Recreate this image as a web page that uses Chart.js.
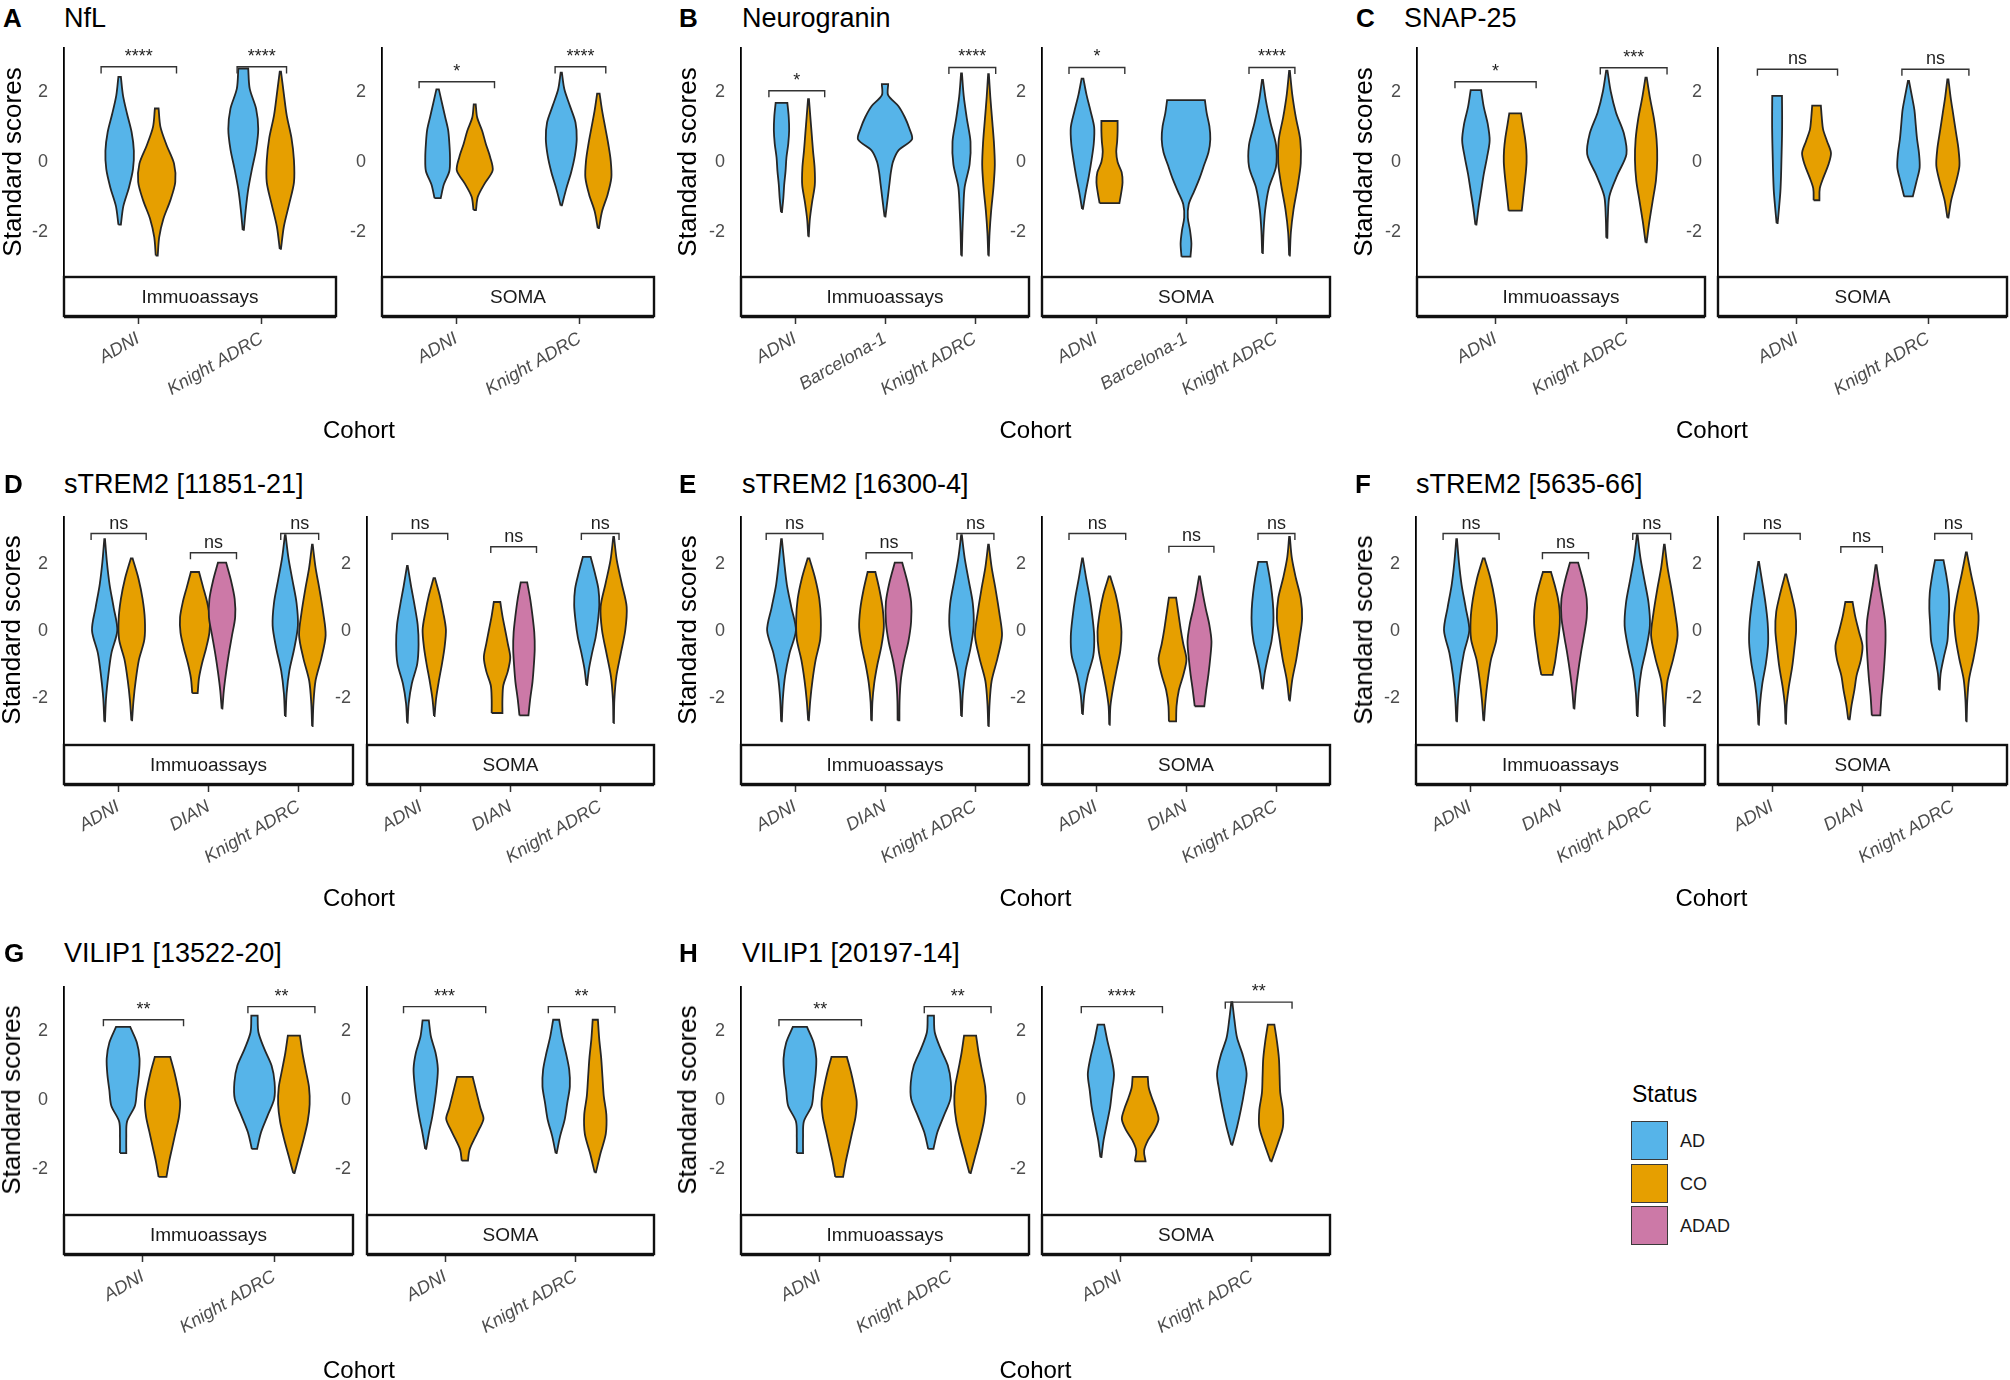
<!DOCTYPE html>
<html>
<head>
<meta charset="utf-8">
<script src="https://cdn.jsdelivr.net/npm/chart.js@4.4.1/dist/chart.umd.min.js"></script>
<style>
  body { margin: 0; width: 2010px; height: 1380px; background: #fff; position: relative; overflow: hidden; }
  canvas { position: absolute; }
  .lbl { position: absolute; line-height: 1; white-space: nowrap; color: #000;
         font-family: "Liberation Sans", Arial, sans-serif; }
  .key { position: absolute; box-sizing: border-box; border: 1.5px solid #3a3a3a; }
</style>
</head>
<body>
<script>
// ---- data ----
const cohorts2 = ['ADNI', 'Knight ADRC'];
const cohortsBarcelona = ['ADNI', 'Barcelona-1', 'Knight ADRC'];
const cohortsDian = ['ADNI', 'DIAN', 'Knight ADRC'];
const yTicks = [-2, 0, 2];
const statusLevels = ['AD', 'CO', 'ADAD'];

// violin: [cohort index, status, min, max, half-widths from min to max]
// bracket: [x from, x to, y, label]
const nflImmViolins = [
  [1, 'AD', -1.8, 2.45, [0.01, 0.03, 0.075, 0.108, 0.115, 0.097, 0.06, 0.027, 0.01]],
  [1, 'CO', -2.69, 1.54, [0.008, 0.02, 0.054, 0.11, 0.15, 0.14, 0.08, 0.03, 0.015]],
  [2, 'AD', -1.95, 2.69, [0.005, 0.02, 0.04, 0.07, 0.104, 0.121, 0.104, 0.052, 0.04]],
  [2, 'CO', -2.5, 2.6, [0.005, 0.028, 0.07, 0.11, 0.11, 0.09, 0.052, 0.028, 0.005]]
];
const nflImmBrackets = [[0.70, 1.31, 2.74, '****'], [1.80, 2.20, 2.74, '****']];
const nflSomaViolins = [
  [1, 'AD', -1.04, 2.09, [0.025, 0.05, 0.095, 0.1, 0.095, 0.085, 0.06, 0.035, 0.01]],
  [1, 'CO', -1.38, 1.66, [0.01, 0.025, 0.08, 0.145, 0.125, 0.09, 0.06, 0.02, 0.008]],
  [2, 'AD', -1.25, 2.57, [0.005, 0.04, 0.08, 0.11, 0.125, 0.115, 0.07, 0.025, 0.005]],
  [2, 'CO', -1.9, 1.97, [0.005, 0.03, 0.075, 0.105, 0.1, 0.08, 0.055, 0.03, 0.01]]
];
const nflSomaBrackets = [[0.70, 1.31, 2.31, '*'], [1.80, 2.21, 2.74, '****']];

const ngImmViolins = [
  [1, 'AD', -1.44, 1.70, [0.005, 0.02, 0.03, 0.045, 0.055, 0.075, 0.085, 0.08, 0.065]],
  [1, 'CO', -2.14, 1.81, [0.003, 0.015, 0.04, 0.07, 0.068, 0.05, 0.035, 0.02, 0.005]],
  [2, 'AD', -1.57, 2.24, [0.005, 0.02, 0.035, 0.05, 0.065, 0.09, 0.15, 0.3, 0.27, 0.22, 0.15, 0.035, 0.035]],
  [3, 'AD', -2.69, 2.55, [0.004, 0.01, 0.02, 0.035, 0.09, 0.1, 0.06, 0.025, 0.005]],
  [3, 'CO', -2.69, 2.53, [0.003, 0.012, 0.03, 0.055, 0.07, 0.06, 0.04, 0.02, 0.004]]
];
const ngImmBrackets = [[0.71, 1.33, 2.05, '*'], [2.71, 3.23, 2.72, '****']];
const ngSomaViolins = [
  [1, 'AD', -1.35, 2.4, [0.005, 0.035, 0.07, 0.1, 0.125, 0.13, 0.09, 0.045, 0.01]],
  [1, 'CO', -1.18, 1.18, [0.11, 0.13, 0.145, 0.135, 0.09, 0.075, 0.085, 0.09, 0.09]],
  [2, 'AD', -2.72, 1.78, [0.05, 0.06, 0.045, 0.02, 0.03, 0.09, 0.15, 0.2, 0.25, 0.27, 0.26, 0.23, 0.21]],
  [3, 'AD', -2.62, 2.36, [0.004, 0.012, 0.03, 0.07, 0.15, 0.15, 0.09, 0.04, 0.005]],
  [3, 'CO', -2.69, 2.62, [0.004, 0.015, 0.045, 0.09, 0.125, 0.12, 0.07, 0.03, 0.004]]
];
const ngSomaBrackets = [[0.70, 1.32, 2.72, '*'], [2.70, 3.21, 2.72, '****']];

const snapImmViolins = [
  [1, 'AD', -1.8, 2.07, [0.004, 0.02, 0.04, 0.06, 0.085, 0.105, 0.09, 0.06, 0.04]],
  [1, 'CO', -1.4, 1.4, [0.05, 0.06, 0.07, 0.08, 0.087, 0.085, 0.075, 0.06, 0.045]],
  [2, 'AD', -2.18, 2.63, [0.004, 0.008, 0.02, 0.08, 0.15, 0.13, 0.07, 0.03, 0.005]],
  [2, 'CO', -2.31, 2.43, [0.004, 0.025, 0.05, 0.075, 0.085, 0.08, 0.06, 0.03, 0.005]]
];
const snapImmBrackets = [[0.69, 1.31, 2.31, '*'], [1.80, 2.31, 2.71, '***']];
const snapSomaViolins = [
  [1, 'AD', -1.76, 1.90, [0.004, 0.015, 0.025, 0.03, 0.033, 0.036, 0.038, 0.038, 0.037]],
  [1, 'CO', -1.1, 1.62, [0.022, 0.025, 0.055, 0.09, 0.11, 0.08, 0.05, 0.04, 0.033]],
  [2, 'AD', -0.99, 2.33, [0.033, 0.06, 0.085, 0.08, 0.065, 0.055, 0.045, 0.025, 0.004]],
  [2, 'CO', -1.6, 2.38, [0.004, 0.025, 0.06, 0.088, 0.08, 0.06, 0.04, 0.02, 0.004]]
];
const snapSomaBrackets = [[0.70, 1.31, 2.67, 'ns'], [1.80, 2.31, 2.67, 'ns']];

const trem11851ImmViolins = [
  [1, 'AD', -2.68, 2.72, [0.004, 0.015, 0.04, 0.075, 0.14, 0.1, 0.055, 0.025, 0.004]],
  [1, 'CO', -2.65, 2.15, [0.004, 0.02, 0.045, 0.08, 0.14, 0.145, 0.12, 0.075, 0.01]],
  [2, 'CO', -1.84, 1.75, [0.03, 0.045, 0.08, 0.125, 0.16, 0.165, 0.135, 0.09, 0.045]],
  [2, 'ADAD', -2.3, 2.03, [0.004, 0.02, 0.045, 0.075, 0.11, 0.145, 0.14, 0.1, 0.045]],
  [3, 'AD', -2.52, 2.84, [0.004, 0.015, 0.045, 0.1, 0.14, 0.125, 0.08, 0.035, 0.004]],
  [3, 'CO', -2.82, 2.56, [0.003, 0.012, 0.035, 0.1, 0.147, 0.12, 0.08, 0.035, 0.004]]
];
const trem11851ImmBrackets = [[0.70, 1.31, 2.89, 'ns'], [1.80, 2.31, 2.32, 'ns'], [2.80, 3.22, 2.89, 'ns']];
const trem11851SomaViolins = [
  [1, 'AD', -2.72, 1.93, [0.003, 0.015, 0.05, 0.11, 0.125, 0.115, 0.08, 0.04, 0.004]],
  [1, 'CO', -2.52, 1.57, [0.003, 0.02, 0.05, 0.085, 0.115, 0.13, 0.1, 0.06, 0.008]],
  [2, 'CO', -2.43, 0.86, [0.06, 0.06, 0.07, 0.12, 0.147, 0.12, 0.09, 0.06, 0.036]],
  [2, 'ADAD', -2.5, 1.44, [0.05, 0.07, 0.095, 0.11, 0.12, 0.115, 0.095, 0.07, 0.036]],
  [3, 'AD', -1.6, 2.2, [0.004, 0.025, 0.06, 0.1, 0.125, 0.14, 0.13, 0.09, 0.043]],
  [3, 'CO', -2.73, 2.79, [0.003, 0.008, 0.03, 0.08, 0.13, 0.145, 0.09, 0.035, 0.004]]
];
const trem11851SomaBrackets = [[0.68, 1.30, 2.89, 'ns'], [1.78, 2.29, 2.5, 'ns'], [2.79, 3.21, 2.89, 'ns']];

const trem16300ImmViolins = [
  [1, 'AD', -2.68, 2.72, [0.004, 0.015, 0.04, 0.09, 0.16, 0.11, 0.06, 0.03, 0.004]],
  [1, 'CO', -2.65, 2.15, [0.004, 0.02, 0.045, 0.08, 0.13, 0.137, 0.12, 0.075, 0.01]],
  [2, 'CO', -2.65, 1.75, [0.004, 0.01, 0.03, 0.065, 0.11, 0.137, 0.125, 0.09, 0.043]],
  [2, 'ADAD', -2.65, 2.03, [0.01, 0.012, 0.025, 0.06, 0.11, 0.14, 0.14, 0.1, 0.041]],
  [3, 'AD', -2.52, 2.84, [0.004, 0.015, 0.045, 0.1, 0.135, 0.125, 0.08, 0.035, 0.004]],
  [3, 'CO', -2.82, 2.56, [0.003, 0.012, 0.035, 0.1, 0.15, 0.12, 0.08, 0.035, 0.004]]
];
const trem16300ImmBrackets = [[0.68, 1.31, 2.89, 'ns'], [1.79, 2.30, 2.32, 'ns'], [2.80, 3.21, 2.89, 'ns']];
const trem16300SomaViolins = [
  [1, 'AD', -2.46, 2.15, [0.004, 0.02, 0.06, 0.12, 0.13, 0.11, 0.08, 0.04, 0.004]],
  [1, 'CO', -2.78, 1.62, [0.003, 0.01, 0.04, 0.08, 0.12, 0.133, 0.11, 0.07, 0.008]],
  [2, 'CO', -2.68, 0.99, [0.04, 0.045, 0.07, 0.12, 0.155, 0.12, 0.09, 0.065, 0.04]],
  [2, 'ADAD', -2.23, 1.62, [0.053, 0.075, 0.1, 0.12, 0.133, 0.11, 0.07, 0.035, 0.005]],
  [3, 'AD', -1.71, 2.05, [0.004, 0.025, 0.06, 0.1, 0.12, 0.12, 0.105, 0.08, 0.048]],
  [3, 'CO', -2.06, 2.79, [0.004, 0.03, 0.075, 0.11, 0.14, 0.125, 0.07, 0.025, 0.004]]
];
const trem16300SomaBrackets = [[0.70, 1.33, 2.89, 'ns'], [1.81, 2.31, 2.51, 'ns'], [2.80, 3.21, 2.89, 'ns']];

const trem5635ImmViolins = [
  [1, 'AD', -2.68, 2.72, [0.004, 0.015, 0.04, 0.08, 0.14, 0.1, 0.055, 0.025, 0.004]],
  [1, 'CO', -2.65, 2.15, [0.004, 0.02, 0.045, 0.08, 0.14, 0.145, 0.12, 0.075, 0.01]],
  [2, 'CO', -1.3, 1.75, [0.062, 0.09, 0.11, 0.13, 0.142, 0.14, 0.12, 0.085, 0.045]],
  [2, 'ADAD', -2.3, 2.03, [0.004, 0.02, 0.045, 0.075, 0.11, 0.14, 0.14, 0.1, 0.045]],
  [3, 'AD', -2.52, 2.84, [0.004, 0.015, 0.045, 0.1, 0.14, 0.125, 0.08, 0.035, 0.004]],
  [3, 'CO', -2.82, 2.56, [0.003, 0.012, 0.035, 0.1, 0.147, 0.12, 0.08, 0.035, 0.004]]
];
const trem5635ImmBrackets = [[0.70, 1.32, 2.89, 'ns'], [1.80, 2.31, 2.32, 'ns'], [2.80, 3.22, 2.89, 'ns']];
const trem5635SomaViolins = [
  [1, 'AD', -2.78, 2.05, [0.003, 0.015, 0.04, 0.08, 0.105, 0.1, 0.075, 0.04, 0.004]],
  [1, 'CO', -2.75, 1.68, [0.003, 0.01, 0.035, 0.07, 0.095, 0.115, 0.105, 0.06, 0.006]],
  [2, 'CO', -2.62, 0.86, [0.008, 0.03, 0.06, 0.085, 0.13, 0.15, 0.11, 0.07, 0.04]],
  [2, 'ADAD', -2.5, 1.95, [0.047, 0.06, 0.08, 0.095, 0.105, 0.1, 0.07, 0.035, 0.005]],
  [3, 'AD', -1.74, 2.1, [0.004, 0.015, 0.05, 0.09, 0.1, 0.11, 0.105, 0.08, 0.047]],
  [3, 'CO', -2.68, 2.33, [0.003, 0.01, 0.03, 0.08, 0.12, 0.135, 0.1, 0.05, 0.005]]
];
const trem5635SomaBrackets = [[0.69, 1.31, 2.89, 'ns'], [1.76, 2.22, 2.5, 'ns'], [2.80, 3.21, 2.89, 'ns']];

const vilip13522ImmViolins = [
  [1, 'AD', -1.54, 2.12, [0.024, 0.024, 0.03, 0.09, 0.105, 0.12, 0.125, 0.105, 0.054]],
  [1, 'CO', -2.23, 1.25, [0.03, 0.05, 0.075, 0.1, 0.125, 0.134, 0.115, 0.09, 0.059]],
  [2, 'AD', -1.42, 2.45, [0.02, 0.05, 0.1, 0.15, 0.153, 0.13, 0.075, 0.03, 0.024]],
  [2, 'CO', -2.12, 1.87, [0.005, 0.04, 0.075, 0.105, 0.12, 0.115, 0.09, 0.065, 0.046]]
];
const vilip13522ImmBrackets = [[0.70, 1.31, 2.33, '**'], [1.80, 2.31, 2.71, '**']];
const vilip13522SomaViolins = [
  [1, 'AD', -1.42, 2.31, [0.004, 0.025, 0.05, 0.07, 0.085, 0.093, 0.075, 0.04, 0.024]],
  [1, 'CO', -1.76, 0.67, [0.024, 0.035, 0.07, 0.11, 0.143, 0.12, 0.1, 0.08, 0.06]],
  [2, 'AD', -1.54, 2.33, [0.004, 0.03, 0.065, 0.085, 0.105, 0.1, 0.075, 0.045, 0.023]],
  [2, 'CO', -2.1, 2.33, [0.005, 0.04, 0.08, 0.085, 0.065, 0.055, 0.045, 0.03, 0.02]]
];
const vilip13522SomaBrackets = [[0.68, 1.31, 2.71, '***'], [1.79, 2.30, 2.71, '**']];

const vilip20197ImmViolins = [
  [1, 'AD', -1.54, 2.12, [0.024, 0.024, 0.03, 0.09, 0.105, 0.12, 0.125, 0.105, 0.054]],
  [1, 'CO', -2.23, 1.25, [0.03, 0.05, 0.075, 0.1, 0.125, 0.134, 0.115, 0.09, 0.059]],
  [2, 'AD', -1.42, 2.45, [0.02, 0.05, 0.1, 0.15, 0.153, 0.13, 0.075, 0.03, 0.024]],
  [2, 'CO', -2.12, 1.87, [0.005, 0.04, 0.075, 0.105, 0.12, 0.115, 0.09, 0.065, 0.046]]
];
const vilip20197ImmBrackets = [[0.69, 1.32, 2.33, '**'], [1.80, 2.31, 2.71, '**']];
const vilip20197SomaViolins = [
  [1, 'AD', -1.66, 2.19, [0.004, 0.02, 0.045, 0.07, 0.085, 0.1, 0.08, 0.05, 0.025]],
  [1, 'CO', -1.78, 0.67, [0.041, 0.03, 0.06, 0.11, 0.14, 0.12, 0.09, 0.065, 0.058]],
  [2, 'AD', -1.3, 2.84, [0.004, 0.04, 0.07, 0.095, 0.113, 0.085, 0.04, 0.02, 0.004]],
  [2, 'CO', -1.78, 2.19, [0.004, 0.05, 0.09, 0.09, 0.07, 0.065, 0.06, 0.045, 0.025]]
];
const vilip20197SomaBrackets = [[0.70, 1.32, 2.71, '****'], [1.80, 2.31, 2.84, '**']];

// ---- styling / layout ----
const FONT = '"Liberation Sans", Arial, sans-serif';
const STATUS_COLORS = { AD: '#56B4E9', CO: '#E69F00', ADAD: '#CC79A7' };
const DODGE = 0.15;      // dodge offset of the two violins in a cohort
const TIP = 0.19;        // bracket tip length (y units)
const YW = 45, PAD_T = 14, PAD_R = 12, STRIP_H = 42, XAX_H = 110;

const rows = [
  { top: 48, h: 227, yRange: [-3.25, 3.28], titleY: 18, cohortY: 430 },
  { top: 517, h: 226, yRange: [-3.32, 3.38], titleY: 484, cohortY: 898 },
  { top: 987, h: 226, yRange: [-3.28, 3.28], titleY: 953, cohortY: 1370 }
];

const panels = [
  { tag: 'A', title: 'NfL', row: 0, tagX: 3, titleX: 64, ylabX: 12, facets: [
    { x: 64, w: 272, strip: 'Immuoassays', cohorts: cohorts2, violins: nflImmViolins, brackets: nflImmBrackets },
    { x: 382, w: 272, strip: 'SOMA', cohorts: cohorts2, violins: nflSomaViolins, brackets: nflSomaBrackets }] },
  { tag: 'B', title: 'Neurogranin', row: 0, tagX: 679, titleX: 742, ylabX: 687, facets: [
    { x: 741, w: 288, strip: 'Immuoassays', cohorts: cohortsBarcelona, violins: ngImmViolins, brackets: ngImmBrackets },
    { x: 1042, w: 288, strip: 'SOMA', cohorts: cohortsBarcelona, violins: ngSomaViolins, brackets: ngSomaBrackets }] },
  { tag: 'C', title: 'SNAP-25', row: 0, tagX: 1356, titleX: 1404, ylabX: 1363, facets: [
    { x: 1417, w: 288, strip: 'Immuoassays', cohorts: cohorts2, violins: snapImmViolins, brackets: snapImmBrackets },
    { x: 1718, w: 289, strip: 'SOMA', cohorts: cohorts2, violins: snapSomaViolins, brackets: snapSomaBrackets }] },
  { tag: 'D', title: 'sTREM2 [11851-21]', row: 1, tagX: 4, titleX: 64, ylabX: 11, facets: [
    { x: 64, w: 289, strip: 'Immuoassays', cohorts: cohortsDian, violins: trem11851ImmViolins, brackets: trem11851ImmBrackets },
    { x: 367, w: 287, strip: 'SOMA', cohorts: cohortsDian, violins: trem11851SomaViolins, brackets: trem11851SomaBrackets }] },
  { tag: 'E', title: 'sTREM2 [16300-4]', row: 1, tagX: 679, titleX: 742, ylabX: 687, facets: [
    { x: 741, w: 288, strip: 'Immuoassays', cohorts: cohortsDian, violins: trem16300ImmViolins, brackets: trem16300ImmBrackets },
    { x: 1042, w: 288, strip: 'SOMA', cohorts: cohortsDian, violins: trem16300SomaViolins, brackets: trem16300SomaBrackets }] },
  { tag: 'F', title: 'sTREM2 [5635-66]', row: 1, tagX: 1355, titleX: 1416, ylabX: 1363, facets: [
    { x: 1416, w: 289, strip: 'Immuoassays', cohorts: cohortsDian, violins: trem5635ImmViolins, brackets: trem5635ImmBrackets },
    { x: 1718, w: 289, strip: 'SOMA', cohorts: cohortsDian, violins: trem5635SomaViolins, brackets: trem5635SomaBrackets }] },
  { tag: 'G', title: 'VILIP1 [13522-20]', row: 2, tagX: 4, titleX: 64, ylabX: 11, facets: [
    { x: 64, w: 289, strip: 'Immuoassays', cohorts: cohorts2, violins: vilip13522ImmViolins, brackets: vilip13522ImmBrackets },
    { x: 367, w: 287, strip: 'SOMA', cohorts: cohorts2, violins: vilip13522SomaViolins, brackets: vilip13522SomaBrackets }] },
  { tag: 'H', title: 'VILIP1 [20197-14]', row: 2, tagX: 679, titleX: 742, ylabX: 687, facets: [
    { x: 741, w: 288, strip: 'Immuoassays', cohorts: cohorts2, violins: vilip20197ImmViolins, brackets: vilip20197ImmBrackets },
    { x: 1042, w: 288, strip: 'SOMA', cohorts: cohorts2, violins: vilip20197SomaViolins, brackets: vilip20197SomaBrackets }] }
];

Chart.defaults.font.family = FONT;

// closed outline: up the left side, down the right side
function violinPoints(cx, lo, hi, widths) {
  const step = (hi - lo) / (widths.length - 1);
  const left = widths.map((w, i) => ({ x: cx - w, y: lo + i * step }));
  const right = widths.map((w, i) => ({ x: cx + w, y: lo + i * step })).reverse();
  // doubled end points keep the flat tops/bottoms flat
  const pts = [left[0], ...left, left[left.length - 1], right[0], ...right, right[right.length - 1]];
  pts.push(left[0]);
  return pts;
}

const facetDecor = {
  id: 'facetDecor',
  beforeDatasetDraw(chart, args) {
    const ds = chart.data.datasets[args.meta.index];
    if (!ds.violinFill) return;
    const line = args.meta.dataset;
    const ctx = chart.ctx;
    if (line.updateControlPoints) line.updateControlPoints(chart.chartArea, args.meta.iScale.axis);
    ctx.save();
    ctx.beginPath();
    line.path(ctx);
    ctx.closePath();
    ctx.fillStyle = ds.violinFill;
    ctx.fill();
    ctx.restore();
  },
  afterDatasetsDraw(chart) {
    const ctx = chart.ctx;
    const { x, y } = chart.scales;
    ctx.save();
    ctx.fillStyle = '#1e1e1e';
    ctx.textAlign = 'center';
    ctx.textBaseline = 'alphabetic';
    chart.data.datasets.forEach(ds => {
      if (!ds.sigLabel) return;
      ctx.font = '18px ' + FONT;
      ctx.fillText(ds.sigLabel, x.getPixelForValue(ds.sigX), y.getPixelForValue(ds.sigY) - 5);
    });
    ctx.restore();
  },
  afterDraw(chart, args, opts) {
    const ctx = chart.ctx;
    const s = chart.scales.xs;
    const a = chart.chartArea;
    const top = s.top + 2, h = s.bottom - s.top - 3;
    ctx.save();
    ctx.strokeStyle = '#111';
    ctx.lineWidth = 2.4;
    ctx.strokeRect(a.left, top, a.right - a.left, h);
    // axis line under the strip
    ctx.lineWidth = 1.6;
    ctx.beginPath();
    ctx.moveTo(a.left, s.bottom + 0.5);
    ctx.lineTo(a.right, s.bottom + 0.5);
    ctx.stroke();
    ctx.fillStyle = '#1a1a1a';
    ctx.font = '19px ' + FONT;
    ctx.textAlign = 'center';
    ctx.textBaseline = 'middle';
    ctx.fillText(opts.strip, (a.left + a.right) / 2, top + h / 2 + 1);
    ctx.restore();
  }
};

function makeFacet(row, f) {
  const cv = document.createElement('canvas');
  const W = YW + f.w + PAD_R, H = PAD_T + row.h + STRIP_H + XAX_H;
  cv.width = W; cv.height = H;
  cv.style.left = (f.x - YW) + 'px';
  cv.style.top = (row.top - PAD_T) + 'px';
  cv.style.width = W + 'px'; cv.style.height = H + 'px';
  document.body.appendChild(cv);

  const datasets = [];
  const perCohort = {};
  f.violins.forEach(v => { perCohort[v[0]] = (perCohort[v[0]] || 0) + 1; });
  const seen = {};
  f.violins.forEach(([cat, status, lo, hi, widths]) => {
    seen[cat] = (seen[cat] || 0) + 1;
    const off = perCohort[cat] === 2 ? (seen[cat] === 1 ? -DODGE : DODGE) : 0;
    datasets.push({
      data: violinPoints(cat + off, lo, hi, widths),
      borderColor: '#262626', borderWidth: 1.8, pointRadius: 0, tension: 0.3,
      fill: false, clip: false, violinFill: STATUS_COLORS[status]
    });
  });
  f.brackets.forEach(([x1, x2, yb, label]) => {
    datasets.push({
      data: [{ x: x1, y: yb - TIP }, { x: x1, y: yb }, { x: x2, y: yb }, { x: x2, y: yb - TIP }],
      borderColor: '#333', borderWidth: 1.4, pointRadius: 0, tension: 0, fill: false, clip: false,
      sigLabel: label, sigX: (x1 + x2) / 2, sigY: yb
    });
  });
  datasets.forEach((d, i) => { d.order = -i; d.xAxisID = 'x'; d.yAxisID = 'y'; });

  const xMax = f.cohorts.length + 0.6;
  new Chart(cv, {
    type: 'line',
    data: { datasets },
    plugins: [facetDecor],
    options: {
      responsive: false,
      animation: false,
      events: [],
      layout: { padding: { top: PAD_T, right: PAD_R, left: 0, bottom: 0 } },
      plugins: { legend: { display: false }, tooltip: { enabled: false }, facetDecor: { strip: f.strip } },
      scales: {
        x: {
          type: 'linear', axis: 'x', position: 'bottom', weight: 2, min: 0.4, max: xMax,
          grid: { display: true, drawOnChartArea: false, drawTicks: true, tickLength: 7, tickColor: '#333', tickWidth: 1.5 },
          border: { display: false },
          ticks: {
            color: '#4d4d4d', font: { size: 18, style: 'italic' }, padding: 4,
            minRotation: 30, maxRotation: 30, autoSkip: false,
            callback: (v, i) => f.cohorts[i]
          },
          afterBuildTicks: s => { s.ticks = f.cohorts.map((_, i) => ({ value: i + 1 })); },
          afterFit: s => { s.height = XAX_H; s.paddingLeft = 0; s.paddingRight = 0; }
        },
        xs: {
          type: 'linear', axis: 'x', position: 'bottom', weight: 1, min: 0.4, max: xMax,
          grid: { display: false, drawTicks: false }, border: { display: false },
          ticks: { display: false },
          afterFit: s => { s.height = STRIP_H; s.paddingLeft = 0; s.paddingRight = 0; }
        },
        y: {
          type: 'linear', position: 'left', min: row.yRange[0], max: row.yRange[1],
          grid: { display: false, drawTicks: false },
          border: { display: true, color: '#000', width: 1.8 },
          ticks: { color: '#4d4d4d', font: { size: 18 }, padding: 16, callback: v => String(v) },
          afterBuildTicks: s => { s.ticks = yTicks.map(v => ({ value: v })); },
          afterFit: s => { s.width = YW; s.paddingTop = 0; s.paddingBottom = 0; }
        }
      }
    }
  });
}

function addText(str, x, y, o = {}) {
  const d = document.createElement('div');
  d.className = 'lbl';
  d.textContent = str;
  d.style.left = x + 'px';
  d.style.top = y + 'px';
  d.style.fontSize = (o.size || 20) + 'px';
  if (o.bold) d.style.fontWeight = 'bold';
  if (o.color) d.style.color = o.color;
  const tx = o.center ? '-50%' : '0';
  d.style.transform = 'translate(' + tx + ', -50%)' + (o.rotate ? ' rotate(-90deg)' : '');
  document.body.appendChild(d);
}

panels.forEach(p => {
  const row = rows[p.row];
  p.facets.forEach(f => makeFacet(row, f));
  addText(p.tag, p.tagX, row.titleY, { size: 26, bold: true });
  addText(p.title, p.titleX, row.titleY, { size: 27 });
  addText('Standard scores', p.ylabX, row.top + row.h / 2, { size: 26, center: true, rotate: true });
  const f0 = p.facets[0], f1 = p.facets[1];
  addText('Cohort', (f0.x + f1.x + f1.w) / 2, row.cohortY, { size: 24, center: true });
});

// legend
addText('Status', 1632, 1094, { size: 23 });
statusLevels.forEach((s, i) => {
  const k = document.createElement('div');
  k.className = 'key';
  k.style.left = '1631px';
  k.style.top = (1121 + i * 42.5) + 'px';
  k.style.width = '37px';
  k.style.height = '39px';
  k.style.background = STATUS_COLORS[s];
  document.body.appendChild(k);
  addText(s, 1680, 1141 + i * 42.5, { size: 18, color: '#1a1a1a' });
});
</script>
</body>
</html>
